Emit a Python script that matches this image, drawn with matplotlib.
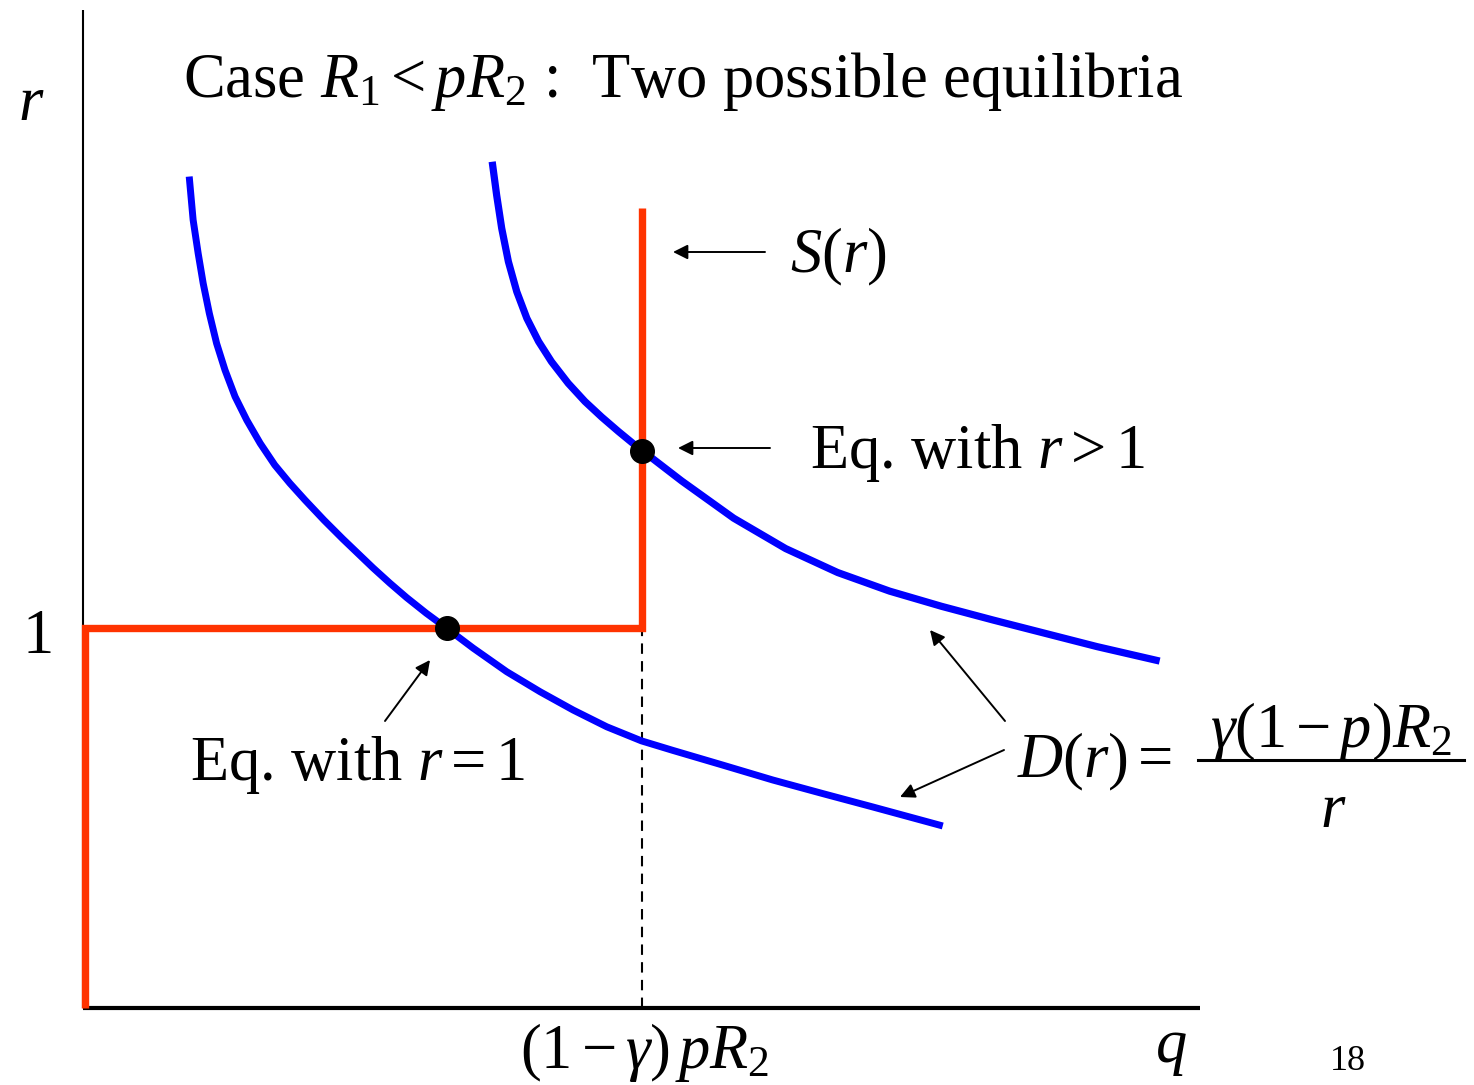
import matplotlib
matplotlib.use("Agg")
import matplotlib.pyplot as plt

plt.rcParams['font.family'] = ['Liberation Serif', 'DejaVu Serif']
plt.rcParams['mathtext.fontset'] = 'custom'
plt.rcParams['mathtext.rm'] = 'Liberation Serif'
plt.rcParams['mathtext.it'] = 'Liberation Serif:italic'
plt.rcParams['mathtext.fallback'] = 'stix'

# data (q = quantity, r = rate); q* = (1-gamma)pR2 scaled to 1
lower_q = [0.190, 0.197, 0.206, 0.215, 0.226, 0.239, 0.254, 0.272, 0.293, 0.317,
           0.343, 0.370, 0.397, 0.431, 0.465, 0.492, 0.519, 0.549, 0.579, 0.614,
           0.651, 0.698, 0.758, 0.818, 0.877, 0.937, 0.999, 1.055, 1.145, 1.234,
           1.324, 1.413, 1.538]
lower_r = [2.188, 2.074, 1.986, 1.907, 1.828, 1.749, 1.679, 1.609, 1.547, 1.486,
           1.429, 1.381, 1.337, 1.284, 1.234, 1.196, 1.158, 1.118, 1.080, 1.039,
           0.999, 0.947, 0.885, 0.832, 0.784, 0.740, 0.703, 0.678, 0.639, 0.600,
           0.564, 0.529, 0.479]
upper_q = [0.732, 0.740, 0.749, 0.761, 0.776, 0.794, 0.815, 0.838, 0.868, 0.898,
           0.928, 0.958, 0.987, 1.003, 1.071, 1.164, 1.257, 1.350, 1.443, 1.536,
           1.628, 1.721, 1.814, 1.926]
upper_r = [2.227, 2.139, 2.052, 1.964, 1.885, 1.815, 1.754, 1.701, 1.644, 1.596,
           1.555, 1.517, 1.482, 1.464, 1.387, 1.289, 1.209, 1.146, 1.097, 1.057,
           1.021, 0.986, 0.951, 0.913]
supply_q = [0.004, 0.004, 1.0, 1.0]
supply_r = [0.0, 1.0, 1.0, 2.105]
eq_q = [0.651, 1.0]
eq_r = [1.0, 1.466]
q_star = 1.0
q_max = 1.998
r_max = 2.626

W, H = 1474, 1085
X0, Y0, QU, RU = 83, 1008, 559, 380

fig = plt.figure(figsize=(W / 100, H / 100), dpi=100)
ax = fig.add_axes([0, 0, 1, 1])
ax.set_xlim(-X0 / QU, (W - X0) / QU)
ax.set_ylim((Y0 - H) / RU, Y0 / RU)
ax.axis('off')


def P(x, y):
    # pixel position -> figure fraction (for text only)
    return x / W, 1 - y / H


# axes
ax.plot([0, 0], [0, r_max], color='black', lw=1.5, solid_capstyle='butt')
ax.plot([0, q_max], [0, 0], color='black', lw=3, solid_capstyle='butt')
ax.plot([q_star, q_star], [0, 1], color='black', lw=1.5, ls=(0, (5, 3.5)))

# supply and demand
ax.plot(supply_q, supply_r, color='#ff3300', lw=5.3, solid_joinstyle='miter', solid_capstyle='butt')
ax.plot(lower_q, lower_r, color='#0000ff', lw=5, solid_capstyle='butt', solid_joinstyle='round')
ax.plot(upper_q, upper_r, color='#0000ff', lw=5.2, solid_capstyle='butt', solid_joinstyle='round')
ax.plot(eq_q, eq_r, 'o', color='black', ms=17)

fs = 45
fig.text(*P(183, 97), r'Case $R_1 < pR_2$ :  Two possible equilibria', fontsize=fs, va='baseline')
fig.text(*P(18, 120), r'$r$', fontsize=fs, va='baseline')
fig.text(*P(22, 653), '1', fontsize=fs, va='baseline')
fig.text(*P(645, 1068), r'$(1-\gamma)\,pR_2$', fontsize=fs, va='baseline', ha='center')
fig.text(*P(1155, 1062), r'$q$', fontsize=fs, va='baseline')
fig.text(*P(1330, 1070), '18', fontsize=26, va='baseline')
fig.text(*P(790, 272), r'$S(r)$', fontsize=fs, va='baseline')
fig.text(*P(810, 468), r'Eq. with $r >$1', fontsize=fs, va='baseline')
fig.text(*P(190, 780), r'Eq. with $r =$1', fontsize=fs, va='baseline')
fig.text(*P(1017, 777), r'$D(r) =$', fontsize=fs, va='baseline')
fig.text(*P(1331, 747), r'$\gamma(1-p)R_2$', fontsize=fs, va='baseline', ha='center')
fig.text(*P(1333, 827), r'$r$', fontsize=fs, va='baseline', ha='center')
fig.add_artist(plt.Line2D([1198 / W, 1464 / W], [1 - 760 / H, 1 - 760 / H], color='black', lw=2.2))

arrows = [((673, 252), (765, 252)), ((678, 448), (770, 448)), ((430, 660), (385, 721)),
          ((930, 630), (1005, 721)), ((900, 797), (1004, 750))]
for head, tail in arrows:
    ax.annotate('', xy=P(*head), xycoords='figure fraction', xytext=P(*tail),
                textcoords='figure fraction',
                arrowprops=dict(arrowstyle='-|>', color='black', lw=1.4, mutation_scale=22,
                                shrinkA=0, shrinkB=0))

fig.savefig('out.png', dpi=100)
